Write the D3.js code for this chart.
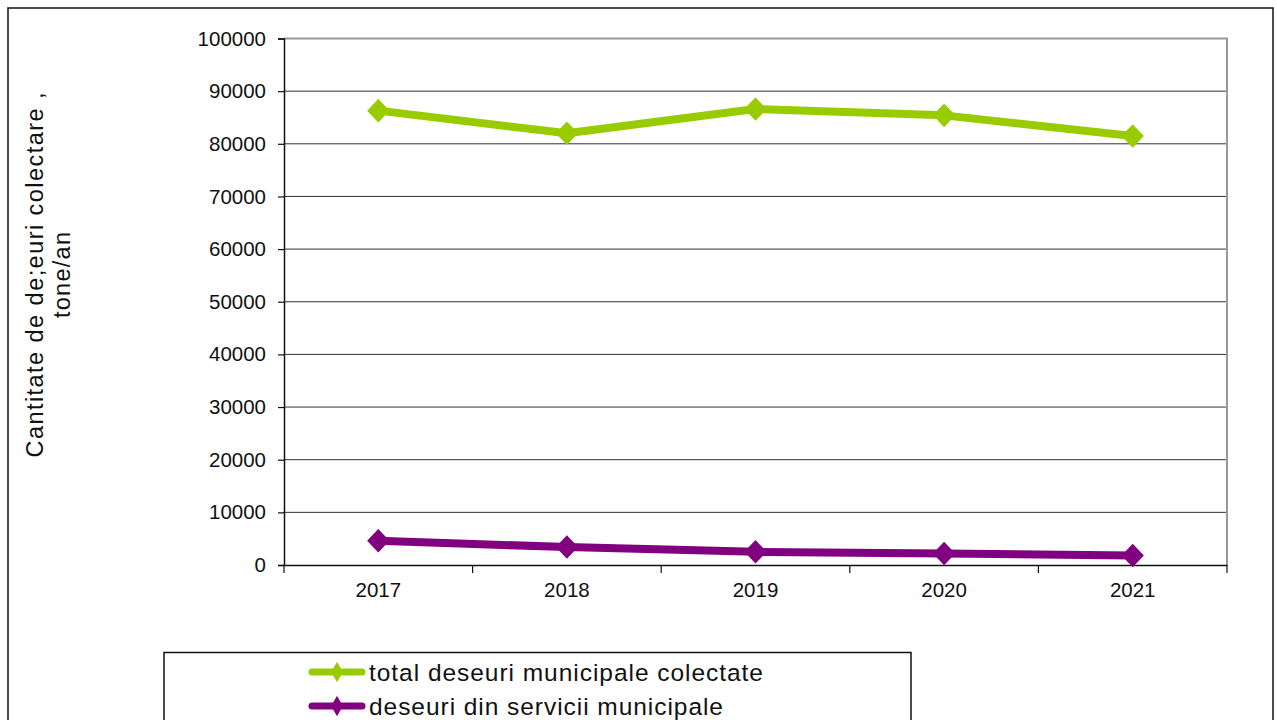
<!DOCTYPE html>
<html><head><meta charset="utf-8">
<script src="https://cdn.jsdelivr.net/npm/d3@7"></script>
<style>body{margin:0;background:#fff}svg{display:block}text{font-family:"Liberation Sans",Arial,sans-serif;fill:#111}</style>
</head><body>
<svg id="c" width="1277" height="720"></svg>
<script>
const years = ["2017","2018","2019","2020","2021"];
const totalMunicipal = [86300, 82000, 86600, 85400, 81500];
const serviciiMunicipale = [4600, 3400, 2500, 2200, 1800];
const yTicks = [0,10000,20000,30000,40000,50000,60000,70000,80000,90000,100000];
const seriesNames = ["total deseuri municipale colectate","deseuri din servicii municipale"];
const seriesColors = ["#99cc00","#800080"];
const yTitle = ["Cantitate de de;euri colectare ,","tone/an"];

const svg = d3.select("#c");
const m = {l:284, r:1227, t:38.5, b:565};
// outer frame
svg.append("rect").attr("x",8).attr("y",8).attr("width",1265).attr("height",760)
  .attr("fill","none").attr("stroke","#111").attr("stroke-width",1.5);

const x = d3.scaleBand().domain(years).range([m.l,m.r]);
const y = d3.scaleLinear().domain([0,100000]).range([m.b,m.t]);

// gridlines
svg.append("g").selectAll("line").data(yTicks.filter(d=>d>0)).join("line")
  .attr("x1",m.l).attr("x2",m.r).attr("y1",d=>y(d)).attr("y2",d=>y(d))
  .attr("stroke","#333").attr("stroke-width",1);
// plot border top/right gray
svg.append("path").attr("d",`M${m.l},${m.t}H${m.r}V${m.b}`).attr("fill","none")
  .attr("stroke","#999").attr("stroke-width",2);

// y axis
const ya = svg.append("g").attr("transform",`translate(${m.l},0)`)
  .call(d3.axisLeft(y).tickValues(yTicks).tickSize(6).tickPadding(12).tickFormat(d3.format("d")));
ya.select(".domain").attr("stroke","#111").attr("stroke-width",1.5);
ya.selectAll(".tick line").attr("stroke","#111").attr("stroke-width",1.2);
ya.selectAll("text").style("font-size","20.5px").attr("fill","#111");

// x axis: ticks at category boundaries
const xa = svg.append("g").attr("transform",`translate(0,${m.b})`)
  .call(d3.axisBottom(x).tickSize(0).tickPadding(17));
xa.select(".domain").attr("stroke","#111").attr("stroke-width",1.5);
xa.selectAll("text").style("font-size","20.5px").attr("fill","#111");
const bounds = years.map(d=>x(d)).concat([x(years[years.length-1])+x.bandwidth()]);
svg.append("g").selectAll("line").data(bounds).join("line")
  .attr("x1",d=>d).attr("x2",d=>d).attr("y1",m.b).attr("y2",m.b+8)
  .attr("stroke","#111").attr("stroke-width",1.2);

// series
const allSeries = [totalMunicipal, serviciiMunicipale];
const line = d3.line().x((d,i)=>x(years[i])+x.bandwidth()/2).y(d=>y(d));
const diamond = d3.symbol().type(d3.symbolDiamond2).size(320);
allSeries.forEach((s,k)=>{
  svg.append("path").datum(s).attr("d",line).attr("fill","none")
    .attr("stroke",seriesColors[k]).attr("stroke-width",8).attr("stroke-linejoin","round");
  svg.append("g").selectAll("path").data(s).join("path")
    .attr("transform",(d,i)=>`translate(${x(years[i])+x.bandwidth()/2},${y(d)}) scale(1,1.05)`)
    .attr("d",diamond).attr("fill",seriesColors[k]);
});

// y title
const yt = svg.append("g").attr("transform","translate(0,275) rotate(-90)");
yt.append("text").attr("x",0).attr("y",43).attr("text-anchor","middle")
  .style("font-size","23.5px").attr("textLength",365).attr("lengthAdjust","spacing").text(yTitle[0]);
yt.append("text").attr("x",0).attr("y",70).attr("text-anchor","middle")
  .style("font-size","23.5px").attr("textLength",86).attr("lengthAdjust","spacing").text(yTitle[1]);

// legend
svg.append("rect").attr("x",164).attr("y",652.5).attr("width",747).attr("height",120)
  .attr("fill","#fff").attr("stroke","#111").attr("stroke-width",1.5);
const legW = [394, 354];
const smallD = d3.symbol().type(d3.symbolDiamond).size(120);
seriesNames.forEach((n,k)=>{
  const ly = 672 + k*34;
  svg.append("line").attr("x1",312).attr("x2",362).attr("y1",ly).attr("y2",ly)
    .attr("stroke",seriesColors[k]).attr("stroke-width",7).attr("stroke-linecap","round");
  svg.append("path").attr("transform",`translate(337,${ly})`).attr("d",smallD).attr("fill",seriesColors[k]);
  svg.append("text").attr("x",369).attr("y",ly+8.5).style("font-size","24.5px")
    .attr("textLength",legW[k]).attr("lengthAdjust","spacing").text(n);
});
</script>
</body></html>
